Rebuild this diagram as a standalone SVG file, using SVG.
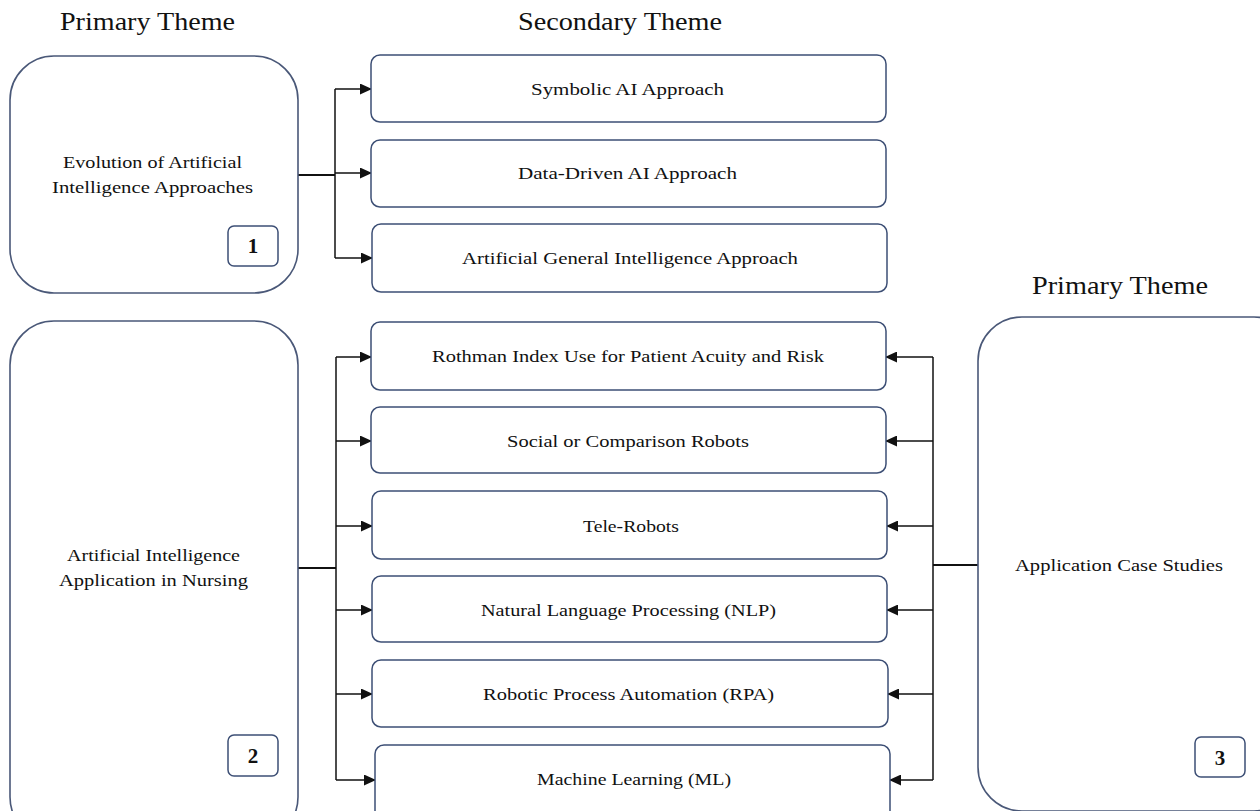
<svg xmlns="http://www.w3.org/2000/svg" width="1260" height="811" viewBox="0 0 1260 811">
<defs>
<style>
.big{fill:#fff;stroke:#4a5878;stroke-width:1.6}
.sec{fill:#fff;stroke:#3d4f75;stroke-width:1.5}
.badge{fill:#fff;stroke:#3d4f75;stroke-width:1.5}
.t{font-family:"Liberation Serif","Times New Roman",serif;font-size:17.5px;fill:#111;text-anchor:middle}
.h{font-family:"Liberation Serif","Times New Roman",serif;font-size:25px;fill:#111;text-anchor:middle}
.b{font-family:"Liberation Serif","Times New Roman",serif;font-size:21px;font-weight:bold;fill:#111;text-anchor:middle}
.c{fill:none;stroke:#111;stroke-width:1.5}
.ct{fill:none;stroke:#111;stroke-width:2}
</style>
<marker id="ar" markerWidth="12" markerHeight="11" refX="11" refY="5.5" orient="auto" markerUnits="userSpaceOnUse">
<path d="M0,0 L12,5.5 L0,11 Z" fill="#111"/>
</marker>
</defs>
<rect width="1260" height="811" fill="#fff"/>

<g id="headers">
<text class="h" x="147.5" y="30" textLength="175" lengthAdjust="spacingAndGlyphs">Primary Theme</text>
<text class="h" x="620" y="30" textLength="204" lengthAdjust="spacingAndGlyphs">Secondary Theme</text>
<text class="h" x="1120" y="294" textLength="176" lengthAdjust="spacingAndGlyphs">Primary Theme</text>
</g>

<g id="connectors">
<path class="ct" d="M298,175 H335"/>
<path class="c" d="M335,89 V258"/>
<path class="c" d="M335,89 H371" marker-end="url(#ar)"/>
<path class="c" d="M335,173 H371" marker-end="url(#ar)"/>
<path class="c" d="M335,258 H372" marker-end="url(#ar)"/>

<path class="ct" d="M298,568 H336"/>
<path class="c" d="M336,357 V780"/>
<path class="c" d="M336,357 H371" marker-end="url(#ar)"/>
<path class="c" d="M336,441 H371" marker-end="url(#ar)"/>
<path class="c" d="M336,526 H372" marker-end="url(#ar)"/>
<path class="c" d="M336,610 H372" marker-end="url(#ar)"/>
<path class="c" d="M336,694 H372" marker-end="url(#ar)"/>
<path class="c" d="M336,780 H375" marker-end="url(#ar)"/>

<path class="ct" d="M978,565 H933"/>
<path class="c" d="M933,357 V780"/>
<path class="c" d="M933,357 H886" marker-end="url(#ar)"/>
<path class="c" d="M933,441 H886" marker-end="url(#ar)"/>
<path class="c" d="M933,526 H887" marker-end="url(#ar)"/>
<path class="c" d="M933,610 H887" marker-end="url(#ar)"/>
<path class="c" d="M933,694 H888" marker-end="url(#ar)"/>
<path class="c" d="M933,780 H890" marker-end="url(#ar)"/>
</g>

<g id="node1">
<rect class="big" x="10" y="56" width="288" height="237" rx="44"/>
<text class="t" x="152.5" y="168" textLength="179" lengthAdjust="spacingAndGlyphs">Evolution of Artificial</text>
<text class="t" x="152.5" y="193" textLength="201" lengthAdjust="spacingAndGlyphs">Intelligence Approaches</text>
<rect class="badge" x="228" y="226" width="50" height="40" rx="6"/>
<text class="b" x="253" y="253">1</text>
</g>

<g id="node2">
<rect class="big" x="10" y="321" width="288" height="520" rx="44"/>
<text class="t" x="153.5" y="561" textLength="173" lengthAdjust="spacingAndGlyphs">Artificial Intelligence</text>
<text class="t" x="153.5" y="586" textLength="189" lengthAdjust="spacingAndGlyphs">Application in Nursing</text>
<rect class="badge" x="228" y="735" width="50" height="41" rx="6"/>
<text class="b" x="253" y="763">2</text>
</g>

<g id="node3">
<rect class="big" x="978" y="317" width="320" height="494" rx="44"/>
<text class="t" x="1119" y="571" textLength="208" lengthAdjust="spacingAndGlyphs">Application Case Studies</text>
<rect class="badge" x="1195" y="737" width="50" height="40" rx="6"/>
<text class="b" x="1220" y="765">3</text>
</g>

<g id="s1"><rect class="sec" x="371" y="55" width="515" height="67" rx="9"/>
<text class="t" x="627.5" y="95" textLength="193" lengthAdjust="spacingAndGlyphs">Symbolic AI Approach</text></g>
<g id="s2"><rect class="sec" x="371" y="140" width="515" height="67" rx="9"/>
<text class="t" x="627.5" y="179" textLength="219" lengthAdjust="spacingAndGlyphs">Data-Driven AI Approach</text></g>
<g id="s3"><rect class="sec" x="372" y="224" width="515" height="68" rx="9"/>
<text class="t" x="630" y="264" textLength="336" lengthAdjust="spacingAndGlyphs">Artificial General Intelligence Approach</text></g>
<g id="s4"><rect class="sec" x="371" y="322" width="515" height="68" rx="9"/>
<text class="t" x="628" y="362" textLength="392" lengthAdjust="spacingAndGlyphs">Rothman Index Use for Patient Acuity and Risk</text></g>
<g id="s5"><rect class="sec" x="371" y="407" width="515" height="66" rx="9"/>
<text class="t" x="628" y="447" textLength="242" lengthAdjust="spacingAndGlyphs">Social or Comparison Robots</text></g>
<g id="s6"><rect class="sec" x="372" y="491" width="515" height="68" rx="9"/>
<text class="t" x="631" y="532" textLength="96" lengthAdjust="spacingAndGlyphs">Tele-Robots</text></g>
<g id="s7"><rect class="sec" x="372" y="576" width="515" height="66" rx="9"/>
<text class="t" x="628.5" y="616" textLength="295" lengthAdjust="spacingAndGlyphs">Natural Language Processing (NLP)</text></g>
<g id="s8"><rect class="sec" x="372" y="660" width="516" height="67" rx="9"/>
<text class="t" x="628.5" y="700" textLength="291" lengthAdjust="spacingAndGlyphs">Robotic Process Automation (RPA)</text></g>
<g id="s9"><rect class="sec" x="375" y="745" width="515" height="80" rx="9"/>
<text class="t" x="634" y="785" textLength="194" lengthAdjust="spacingAndGlyphs">Machine Learning (ML)</text></g>
</svg>
